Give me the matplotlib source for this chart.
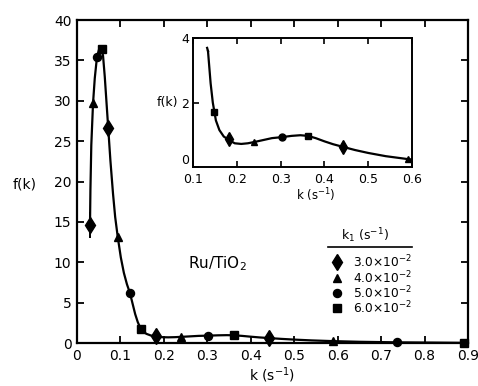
import matplotlib
matplotlib.use('agg')
import matplotlib.pyplot as plt

# data points, one list per k1 value (k in s^-1, f(k))
k1_labels = [r'3.0$\times$10$^{-2}$', r'4.0$\times$10$^{-2}$',
             r'5.0$\times$10$^{-2}$', r'6.0$\times$10$^{-2}$']
markers = ['d', '^', 'o', 's']

k_diamond = [0.030, 0.072, 0.182, 0.442]
f_diamond = [14.6, 26.6, 0.86, 0.64]
k_triangle = [0.037, 0.094, 0.240, 0.590]
f_triangle = [29.7, 13.1, 0.78, 0.25]
k_circle = [0.046, 0.122, 0.302, 0.737]
f_circle = [35.4, 6.2, 0.93, 0.10]
k_square = [0.057, 0.148, 0.362, 0.890]
f_square = [36.4, 1.7, 0.97, 0.04]

series_k = [k_diamond, k_triangle, k_circle, k_square]
series_f = [f_diamond, f_triangle, f_circle, f_square]

# drawn curve
curve_k = [0.030, 0.031, 0.033, 0.037, 0.041, 0.046, 0.051, 0.056, 0.060,
           0.064, 0.068, 0.072, 0.077, 0.083, 0.088, 0.094, 0.101, 0.108,
           0.115, 0.122, 0.128, 0.134, 0.140, 0.145, 0.152, 0.160, 0.170,
           0.182, 0.195, 0.210, 0.225, 0.240, 0.260, 0.280, 0.302, 0.325,
           0.345, 0.362, 0.380, 0.400, 0.420, 0.442, 0.470, 0.500, 0.540,
           0.590, 0.650, 0.737, 0.820, 0.890]
curve_f = [14.6, 19.0, 24.5, 29.7, 32.8, 35.4, 36.4, 36.5, 35.6,
           33.0, 29.8, 26.6, 22.6, 18.5, 15.6, 13.1, 10.6, 8.7,
           7.3, 6.2, 4.9, 3.6, 2.6, 2.0, 1.45, 1.15, 0.95,
           0.84, 0.74, 0.72, 0.74, 0.78, 0.84, 0.90, 0.93, 0.97,
           0.99, 0.97, 0.90, 0.80, 0.71, 0.63, 0.53, 0.44, 0.34,
           0.25, 0.17, 0.10, 0.07, 0.04]

plt.rcParams['font.family'] = ['DejaVu Sans']
plt.rcParams['font.size'] = 10

fig = plt.figure(figsize=(4.78, 3.86), dpi=100)
ax = fig.add_axes([0.161, 0.111, 0.818, 0.837])

ax.plot(curve_k, curve_f, color='black', lw=1.6, zorder=2)
ax.errorbar([k_diamond[0]], [f_diamond[0]], yerr=1.6, fmt='none',
            ecolor='black', elinewidth=1.4, capsize=0)
for ks, fs, m in zip(series_k, series_f, markers):
    ms = 8.5 if m == 'd' else 5.8
    ax.plot(ks, fs, m, color='black', ms=ms, zorder=3, clip_on=False)

ax.set_xlim(0, 0.9)
ax.set_ylim(0, 40)
ax.set_xticks([i / 10 for i in range(10)])
ax.set_xticklabels(['0'] + ['%.1f' % (i / 10) for i in range(1, 10)])
ax.set_yticks(range(0, 41, 5))
ax.tick_params(direction='in', length=5, width=1.3, top=True, right=True,
               labelsize=10, pad=4)
for s in ax.spines.values():
    s.set_linewidth(1.6)
ax.set_xlabel(r'k (s$^{-1}$)', fontsize=10, labelpad=2)
ax.set_ylabel('f(k)', rotation=0, fontsize=10, va='center')
ax.yaxis.set_label_coords(-0.135, 0.49)

ax.text(0.255, 9.9, r'Ru/TiO$_2$', fontsize=11, va='center')

# legend drawn by hand
ax.text(0.737, 0.334, r'k$_1$ (s$^{-1}$)', transform=ax.transAxes,
        ha='center', va='center', fontsize=9)
ax.plot([0.642, 0.857], [0.297, 0.297], color='black', lw=1.2,
        transform=ax.transAxes)
rows = [0.250, 0.203, 0.156, 0.109]
for y, m, lab in zip(rows, markers, k1_labels):
    ms = 8 if m == 'd' else 5.8
    ax.plot([0.665], [y], m, color='black', ms=ms, transform=ax.transAxes)
    ax.text(0.705, y, lab, transform=ax.transAxes, va='center', fontsize=8.8)

# inset
ins = fig.add_axes([0.404, 0.567, 0.458, 0.334])
inset_mask = [k >= 0.13 for k in curve_k]
ins.plot([k for k, ok in zip(curve_k, inset_mask) if ok],
         [f for f, ok in zip(curve_f, inset_mask) if ok],
         color='black', lw=1.6, zorder=2)
ins.plot([0.132, 0.134], [3.7, 3.6], color='black', lw=1.6)
for ks, fs, m in zip(series_k, series_f, markers):
    pk = [k for k in ks if 0.1 <= k <= 0.6]
    pf = [f for k, f in zip(ks, fs) if 0.1 <= k <= 0.6]
    ms = 7.5 if m == 'd' else 5
    ins.plot(pk, pf, m, color='black', ms=ms, zorder=3, clip_on=False)
ins.set_xlim(0.1, 0.6)
ins.set_ylim(0, 4)
ins.set_xticks([0.1, 0.2, 0.3, 0.4, 0.5, 0.6])
ins.set_yticks([0, 2, 4])
ins.tick_params(direction='in', length=4, width=1.2, top=True,
                labelsize=9, pad=4)
ins.tick_params(axis='y', pad=3)
ins.get_yticklabels()[0].set_va('bottom')
for s in ins.spines.values():
    s.set_linewidth(1.4)
ins.set_xlabel(r'k (s$^{-1}$)', fontsize=8.5, labelpad=1)
ins.xaxis.set_label_coords(0.56, -0.15)
ins.set_ylabel('f(k)', rotation=0, fontsize=9, labelpad=10, va='center')

plt.savefig('out.png', dpi=100)
